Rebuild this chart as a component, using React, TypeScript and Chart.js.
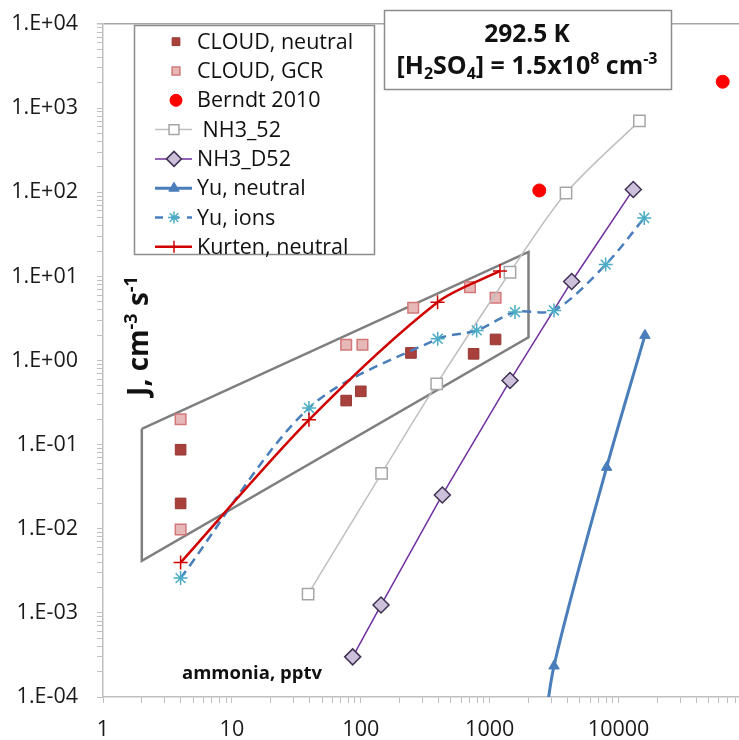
import React, { useEffect, useRef } from 'react';
import { Chart, registerables } from 'chart.js';
import { drawPoint } from 'chart.js/helpers';

Chart.register(...registerables);

// ---------- data ----------
const cloudNeutralX = [4, 4, 77, 100, 245, 750, 1110];
const cloudNeutralY = [0.087, 0.02, 0.334, 0.43, 1.23, 1.2, 1.78];
const cloudGcrX = [4, 4, 77, 103, 255, 703, 1110];
const cloudGcrY = [0.2, 0.0098, 1.54, 1.54, 4.24, 7.46, 5.57];
const berndtX = [2425, 64200];
const berndtY = [105, 2060];
const nh352X = [39, 145, 388, 1437, 3908, 14500];
const nh352Y = [0.00167, 0.0456, 0.527, 11.2, 98, 706];
const nh3d52X = [86.5, 143.5, 429, 1437, 4325, 13000];
const nh3d52Y = [0.0003, 0.00124, 0.0252, 0.578, 8.7, 108];
const yuNeutralX = [2500, 3155, 8075, 16000];
const yuNeutralY = [0.00002, 0.000234, 0.0537, 1.99];
const yuIonsX = [4, 39.6, 395, 793, 1571, 3155, 7940, 15800];
const yuIonsY = [0.00259, 0.273, 1.81, 2.28, 3.76, 3.94, 13.8, 49.4];
const kurtenX = [4, 39.6, 394, 1202];
const kurtenY = [0.00397, 0.197, 4.94, 11.6];
const envelopeX = [2, 2000, 2000, 2, 2];
const envelopeY = [0.154, 19.5, 1.89, 0.00416, 0.154];

const xTickLabels = ['1', '10', '100', '1000', '10000'];
const yTickLabels = ['1.E-04', '1.E-03', '1.E-02', '1.E-01', '1.E+00', '1.E+01', '1.E+02', '1.E+03', '1.E+04'];

const X_MIN = 1;
const X_MAX = 85900;
const Y_MIN = 1e-4;
const Y_MAX = 1e4;

const FONT = '"Open Sans", "DejaVu Sans", sans-serif';

function pts(xs: number[], ys: number[]) {
  return xs.map((x, i) => ({ x, y: ys[i] }));
}

function logTicks(min: number, max: number) {
  const out: { value: number }[] = [];
  const e0 = Math.floor(Math.log10(min));
  const e1 = Math.ceil(Math.log10(max));
  for (let e = e0; e <= e1; e++) {
    for (let m = 1; m <= 9; m++) {
      const v = Number((m * Math.pow(10, e)).toPrecision(12));
      if (v >= min * 0.999999 && v <= max * 1.000001) out.push({ value: v });
    }
  }
  return out;
}

function decadeIndex(v: number, base: number) {
  const e = Math.log10(v);
  const r = Math.round(e);
  if (Math.abs(e - r) < 1e-6) return r - base;
  return -1;
}

function zeroPad(scale: any) {
  scale.paddingLeft = 0;
  scale.paddingRight = 0;
  scale.paddingTop = 0;
  scale.paddingBottom = 0;
}

type Seg = { t: string; size: number; dy: number };

function richWidth(ctx: CanvasRenderingContext2D, segs: Seg[], weight: string) {
  let w = 0;
  for (const s of segs) {
    ctx.font = `${weight} ${s.size}px ${FONT}`;
    w += ctx.measureText(s.t).width;
  }
  return w;
}

function drawRich(ctx: CanvasRenderingContext2D, segs: Seg[], cx: number, baseline: number, weight: string) {
  const w = richWidth(ctx, segs, weight);
  let x = cx - w / 2;
  ctx.textBaseline = 'alphabetic';
  ctx.textAlign = 'left';
  for (const s of segs) {
    ctx.font = `${weight} ${s.size}px ${FONT}`;
    ctx.fillText(s.t, x, baseline + s.dy);
    x += ctx.measureText(s.t).width;
  }
}

const overlayPlugin = {
  id: 'overlay',
  afterDraw(chart: any) {
    const ctx: CanvasRenderingContext2D = chart.ctx;
    ctx.save();

    // legend box
    ctx.fillStyle = '#ffffff';
    ctx.fillRect(134, 25, 240, 229);
    ctx.strokeStyle = '#8c8c8c';
    ctx.lineWidth = 1.5;
    ctx.strokeRect(134.5, 25.5, 240, 229);

    const items = chart.data.datasets.filter((d: any) => d.label);
    items.forEach((ds: any, i: number) => {
      const y = 41.7 + i * 29.3;
      if (ds.showLine) {
        ctx.save();
        ctx.beginPath();
        ctx.setLineDash(ds.legendDash || []);
        ctx.strokeStyle = ds.borderColor;
        ctx.lineWidth = ds.borderWidth;
        ctx.moveTo(155, y);
        ctx.lineTo(192, y);
        ctx.stroke();
        ctx.restore();
      }
      ctx.save();
      ctx.fillStyle = ds.pointBackgroundColor;
      ctx.strokeStyle = ds.pointBorderColor;
      ctx.lineWidth = ds.pointBorderWidth;
      drawPoint(ctx, {
        pointStyle: ds.pointStyle,
        radius: ds.legendRadius,
        rotation: 0,
        borderWidth: ds.pointBorderWidth,
      } as any, ds.showLine ? 174 : 176, y);
      ctx.restore();
      ctx.fillStyle = '#111111';
      ctx.font = `21.5px ${FONT}`;
      ctx.textBaseline = 'middle';
      ctx.textAlign = 'left';
      ctx.fillText(ds.label, 197, y + 1);
    });

    // title box
    ctx.fillStyle = '#ffffff';
    ctx.fillRect(384, 10, 287, 79);
    ctx.strokeStyle = '#8c8c8c';
    ctx.lineWidth = 1.5;
    ctx.strokeRect(384.5, 10.5, 287, 79);
    ctx.fillStyle = '#111111';
    drawRich(ctx, [{ t: '292.5 K', size: 24.5, dy: 0 }], 527, 42, 'bold');
    drawRich(
      ctx,
      [
        { t: '[H', size: 25, dy: 0 },
        { t: '2', size: 16, dy: 5 },
        { t: 'SO', size: 25, dy: 0 },
        { t: '4', size: 16, dy: 5 },
        { t: '] = 1.5x10', size: 25, dy: 0 },
        { t: '8', size: 16, dy: -10 },
        { t: ' cm', size: 25, dy: 0 },
        { t: '-3', size: 16, dy: -10 },
      ],
      527,
      74,
      'bold'
    );

    // y-axis title
    ctx.save();
    ctx.translate(148, 336);
    ctx.rotate(-Math.PI / 2);
    ctx.fillStyle = '#111111';
    drawRich(
      ctx,
      [
        { t: 'J, cm', size: 28, dy: 0 },
        { t: '-3', size: 18, dy: -11 },
        { t: ' s', size: 28, dy: 0 },
        { t: '-1', size: 18, dy: -11 },
      ],
      0,
      0,
      'bold'
    );
    ctx.restore();

    // x-axis title
    ctx.fillStyle = '#111111';
    ctx.font = `bold 18.5px ${FONT}`;
    ctx.textAlign = 'left';
    ctx.textBaseline = 'alphabetic';
    ctx.fillText('ammonia, pptv', 182, 679);

    ctx.restore();
  },
};

export default function App() {
  const canvasRef = useRef<HTMLCanvasElement | null>(null);

  useEffect(() => {
    if (!canvasRef.current) return;
    const tickFont = { family: FONT, size: 21.5 };
    const chart = new Chart(canvasRef.current, {
      type: 'scatter',
      data: {
        datasets: [
          {
            label: '',
            data: pts(envelopeX, envelopeY),
            showLine: true,
            borderColor: '#7f7f7f',
            borderWidth: 2.5,
            pointRadius: 0,
            tension: 0,
            order: 100,
          } as any,
          {
            label: 'CLOUD, neutral',
            data: pts(cloudNeutralX, cloudNeutralY),
            showLine: false,
            pointStyle: 'rect',
            pointRadius: 7.5,
            legendRadius: 5.5,
            pointBackgroundColor: '#a8403c',
            pointBorderColor: '#953735',
            pointBorderWidth: 1,
            borderColor: '#a8403c',
            backgroundColor: '#a8403c',
            order: 9,
          },
          {
            label: 'CLOUD, GCR',
            data: pts(cloudGcrX, cloudGcrY),
            showLine: false,
            pointStyle: 'rect',
            pointRadius: 7.5,
            legendRadius: 5.5,
            pointBackgroundColor: '#e6b9b8',
            pointBorderColor: '#d2787a',
            pointBorderWidth: 1.5,
            borderColor: '#d2787a',
            backgroundColor: '#e6b9b8',
            order: 8,
          },
          {
            label: 'Berndt 2010',
            data: pts(berndtX, berndtY),
            showLine: false,
            pointStyle: 'circle',
            pointRadius: 6.5,
            legendRadius: 6,
            pointBackgroundColor: '#ff0000',
            pointBorderColor: '#ff0000',
            pointBorderWidth: 1,
            borderColor: '#ff0000',
            backgroundColor: '#ff0000',
            order: 7,
          },
          {
            label: ' NH3_52',
            data: pts(nh352X, nh352Y),
            showLine: true,
            tension: 0.3,
            borderColor: '#bfbfbf',
            borderWidth: 1.5,
            pointStyle: 'rect',
            pointRadius: 8,
            legendRadius: 7,
            pointBackgroundColor: '#ffffff',
            pointBorderColor: '#a6a6a6',
            pointBorderWidth: 1.5,
            order: 6,
          },
          {
            label: 'NH3_D52',
            data: pts(nh3d52X, nh3d52Y),
            showLine: true,
            tension: 0,
            borderColor: '#7030a0',
            borderWidth: 1.5,
            pointStyle: 'rectRot',
            pointRadius: 8,
            legendRadius: 7.5,
            pointBackgroundColor: '#ccc0da',
            pointBorderColor: '#3f3151',
            pointBorderWidth: 1.5,
            order: 5,
          },
          {
            label: 'Yu, neutral',
            data: pts(yuNeutralX, yuNeutralY),
            showLine: true,
            tension: 0.3,
            borderColor: '#4a7ebb',
            borderWidth: 3,
            pointStyle: 'triangle',
            pointRadius: [0, 6, 6, 6],
            legendRadius: 6,
            pointBackgroundColor: '#4a7ebb',
            pointBorderColor: '#4a7ebb',
            pointBorderWidth: 1,
            order: 4,
          },
          {
            label: 'Yu, ions',
            data: pts(yuIonsX, yuIonsY),
            showLine: true,
            tension: 0.3,
            borderColor: '#4a7ebb',
            borderWidth: 2.5,
            borderDash: [9, 6],
            legendDash: [8, 8],
            pointStyle: 'star',
            pointRadius: 7,
            legendRadius: 6,
            pointBackgroundColor: '#4bacc6',
            pointBorderColor: '#4bacc6',
            pointBorderWidth: 1.5,
            order: 3,
          },
          {
            label: 'Kurten, neutral',
            data: pts(kurtenX, kurtenY),
            showLine: true,
            tension: 0.3,
            borderColor: '#d00000',
            borderWidth: 2.5,
            pointStyle: 'cross',
            pointRadius: 7,
            legendRadius: 6,
            pointBackgroundColor: '#d00000',
            pointBorderColor: '#d00000',
            pointBorderWidth: 1.5,
            order: 2,
          },
        ] as any,
      },
      options: {
        animation: false,
        responsive: true,
        maintainAspectRatio: false,
        layout: { autoPadding: false, padding: { top: 24, left: 0, right: 0, bottom: 0 } },
        plugins: {
          legend: { display: false },
          tooltip: { enabled: false },
          title: { display: false },
        },
        scales: {
          x: {
            type: 'logarithmic',
            position: 'bottom',
            min: X_MIN,
            max: X_MAX,
            afterBuildTicks: (scale: any) => {
              scale.ticks = logTicks(X_MIN, X_MAX);
            },
            afterFit: (scale: any) => {
              scale.height = 43;
              zeroPad(scale);
            },
            ticks: {
              autoSkip: false,
              maxRotation: 0,
              minRotation: 0,
              padding: 14,
              color: '#1a1a1a',
              font: tickFont,
              callback: (value: any) => {
                const i = decadeIndex(Number(value), 0);
                return i >= 0 && i < xTickLabels.length ? xTickLabels[i] : '';
              },
            },
            grid: {
              drawOnChartArea: false,
              drawTicks: true,
              tickLength: 6,
              color: '#bfbfbf',
              tickColor: '#bfbfbf',
            },
            border: { display: true, color: '#bfbfbf', width: 1.5 },
          },
          y: {
            type: 'logarithmic',
            position: 'left',
            min: Y_MIN,
            max: Y_MAX,
            afterBuildTicks: (scale: any) => {
              scale.ticks = logTicks(Y_MIN, Y_MAX);
            },
            afterFit: (scale: any) => {
              scale.width = 103;
              zeroPad(scale);
            },
            ticks: {
              autoSkip: false,
              padding: 19,
              color: '#1a1a1a',
              font: tickFont,
              callback: (value: any) => {
                const i = decadeIndex(Number(value), -4);
                return i >= 0 && i < yTickLabels.length ? yTickLabels[i] : '';
              },
            },
            grid: {
              drawOnChartArea: true,
              drawTicks: true,
              tickLength: 6,
              lineWidth: (ctx: any) => (ctx.tick && ctx.tick.value === Y_MAX ? 1.5 : 1),
              color: (ctx: any) => (ctx.tick && ctx.tick.value === Y_MAX ? '#a6a6a6' : 'rgba(0,0,0,0)'),
              tickColor: '#bfbfbf',
            },
            border: { display: true, color: '#bfbfbf', width: 1.5 },
          },
        },
      },
      plugins: [overlayPlugin],
    } as any);
    return () => chart.destroy();
  }, []);

  return (
    <div style={{ position: 'absolute', left: 0, top: 0, width: 739, height: 740, background: '#ffffff' }}>
      <canvas ref={canvasRef} />
    </div>
  );
}
